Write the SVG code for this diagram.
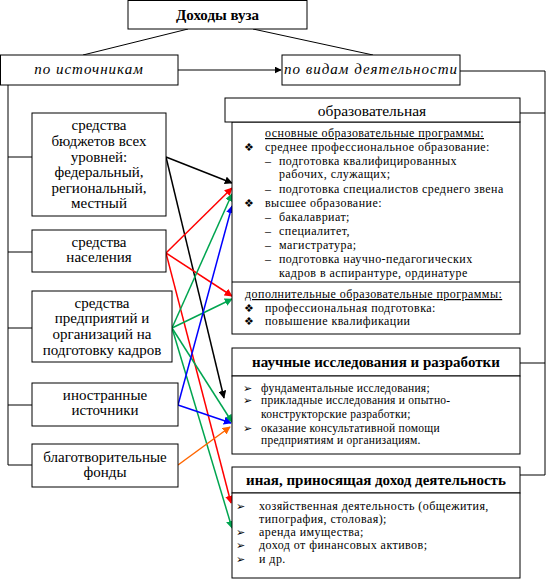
<svg xmlns="http://www.w3.org/2000/svg" width="547" height="580" viewBox="0 0 547 580">
<style>
.box{fill:#fff;stroke:#000;stroke-width:1}
.ln{fill:none;stroke:#000;stroke-width:1}
.t16{font-family:"Liberation Serif","Times New Roman",serif;font-size:15px;fill:#000;text-anchor:middle}
.hd{font-family:"Liberation Serif","Times New Roman",serif;font-size:15.5px;fill:#000;text-anchor:middle}
.hb{font-family:"Liberation Serif","Times New Roman",serif;font-size:15px;font-weight:bold;fill:#000;text-anchor:middle}
.it{font-family:"Liberation Serif","Times New Roman",serif;font-size:15px;font-style:italic;letter-spacing:1px;fill:#000;text-anchor:middle}
.b12{font-family:"Liberation Serif","Times New Roman",serif;font-size:12px;letter-spacing:0.45px;fill:#000}
.b11{font-family:"Liberation Serif","Times New Roman",serif;font-size:11.5px;letter-spacing:0.25px;fill:#000}
.sym{font-family:"DejaVu Sans",sans-serif;font-size:11px;fill:#000}
.a{fill:none;stroke-width:1.5}
</style>
<defs>
<marker id="mk" viewBox="0 0 10 10" refX="9" refY="5" markerWidth="7" markerHeight="7" markerUnits="userSpaceOnUse" orient="auto"><path d="M0,0 L10,5 L0,10 z" fill="#000"/></marker>
<marker id="mr" viewBox="0 0 10 10" refX="9" refY="5" markerWidth="8" markerHeight="8" markerUnits="userSpaceOnUse" orient="auto"><path d="M0,0 L10,5 L0,10 z" fill="#ff0000"/></marker>
<marker id="mg" viewBox="0 0 10 10" refX="9" refY="5" markerWidth="8" markerHeight="8" markerUnits="userSpaceOnUse" orient="auto"><path d="M0,0 L10,5 L0,10 z" fill="#00a550"/></marker>
<marker id="mb" viewBox="0 0 10 10" refX="9" refY="5" markerWidth="8" markerHeight="8" markerUnits="userSpaceOnUse" orient="auto"><path d="M0,0 L10,5 L0,10 z" fill="#0000ff"/></marker>
<marker id="mo" viewBox="0 0 10 10" refX="9" refY="5" markerWidth="8" markerHeight="8" markerUnits="userSpaceOnUse" orient="auto"><path d="M0,0 L10,5 L0,10 z" fill="#ff6600"/></marker>
<marker id="mbk" viewBox="0 0 10 10" refX="9" refY="5" markerWidth="8" markerHeight="8" markerUnits="userSpaceOnUse" orient="auto"><path d="M0,0 L10,5 L0,10 z" fill="#000"/></marker>
</defs>
<rect width="547" height="580" fill="#fff"/>

<g id="connectors">
<line class="ln" x1="188" y1="29" x2="83" y2="55"/>
<line class="ln" x1="253" y1="29" x2="373" y2="55"/>
<line class="ln" x1="178" y1="70" x2="281" y2="70" marker-end="url(#mk)"/>
<polyline class="ln" points="460,71 545,71 545,475 520,475"/>
<line class="ln" x1="520" y1="113" x2="545" y2="113"/>
<line class="ln" x1="520" y1="363" x2="545" y2="363"/>
<polyline class="ln" points="8,85 8,465 32,465"/>
<line class="ln" x1="8" y1="157" x2="32" y2="157"/>
<line class="ln" x1="8" y1="252" x2="32" y2="252"/>
<line class="ln" x1="8" y1="328" x2="32" y2="328"/>
<line class="ln" x1="8" y1="405" x2="32" y2="405"/>
<line class="a" stroke="#000" x1="166" y1="157" x2="232" y2="183" marker-end="url(#mbk)"/>
<line class="a" stroke="#000" x1="166" y1="157" x2="224" y2="398" marker-end="url(#mbk)"/>
<line class="a" stroke="#ff0000" x1="166" y1="253" x2="232" y2="188" marker-end="url(#mr)"/>
<line class="a" stroke="#ff0000" x1="166" y1="253" x2="232" y2="296" marker-end="url(#mr)"/>
<line class="a" stroke="#ff0000" x1="166" y1="253" x2="231" y2="503" marker-end="url(#mr)"/>
<line class="a" stroke="#00a550" x1="172" y1="328" x2="232" y2="194" marker-end="url(#mg)"/>
<line class="a" stroke="#00a550" x1="172" y1="328" x2="232" y2="299" marker-end="url(#mg)"/>
<line class="a" stroke="#00a550" x1="172" y1="328" x2="232" y2="422" marker-end="url(#mg)"/>
<line class="a" stroke="#00a550" x1="172" y1="328" x2="232" y2="528" marker-end="url(#mg)"/>
<line class="a" stroke="#0000ff" x1="178" y1="405" x2="232" y2="206" marker-end="url(#mb)"/>
<line class="a" stroke="#0000ff" x1="178" y1="405" x2="231" y2="423" marker-end="url(#mb)"/>
<line class="a" stroke="#ff6600" x1="178" y1="465" x2="230" y2="427" marker-end="url(#mo)"/>
</g>

<g id="root">
<rect class="box" x="128" y="0.5" width="179" height="28.5"/>
<text x="217.5" y="20" class="t16" font-size="16" font-weight="bold">Доходы вуза</text>
</g>
<g id="by-source">
<rect class="box" x="0.5" y="55" width="177.5" height="30"/>
<text x="89" y="74" class="it">по источникам</text>
</g>
<g id="by-activity">
<rect class="box" x="282" y="55" width="178" height="30"/>
<text x="371" y="74" class="it">по видам деятельности</text>
</g>

<g id="src-budget">
<rect class="box" x="32" y="113" width="134" height="103"/>
<text class="t16"><tspan x="99" y="130">средства</tspan><tspan x="99" y="146">бюджетов всех</tspan><tspan x="99" y="162">уровней:</tspan><tspan x="99" y="177">федеральный,</tspan><tspan x="99" y="193">региональный,</tspan><tspan x="99" y="208">местный</tspan></text>
</g>
<g id="src-population">
<rect class="box" x="32" y="230" width="134" height="42"/>
<text class="t16"><tspan x="99" y="247">средства</tspan><tspan x="99" y="262">населения</tspan></text>
</g>
<g id="src-enterprises">
<rect class="box" x="32" y="291" width="140" height="71"/>
<text class="t16"><tspan x="102" y="308">средства</tspan><tspan x="102" y="323">предприятий и</tspan><tspan x="102" y="339">организаций на</tspan><tspan x="102" y="355">подготовку кадров</tspan></text>
</g>
<g id="src-foreign">
<rect class="box" x="32" y="383" width="146" height="43"/>
<text class="t16"><tspan x="105" y="400">иностранные</tspan><tspan x="105" y="415">источники</tspan></text>
</g>
<g id="src-charity">
<rect class="box" x="32" y="444" width="146" height="43"/>
<text class="t16"><tspan x="105" y="462">благотворительные</tspan><tspan x="105" y="477">фонды</tspan></text>
</g>

<g id="act-education">
<rect class="box" x="232" y="122" width="288" height="212"/>
<line class="ln" x1="232" y1="282" x2="520" y2="282"/>
<rect class="box" x="225" y="98" width="295" height="24"/>
<text x="372" y="116" class="hd">образовательная</text>
<text class="b12" x="265" y="137" text-decoration="underline">основные образовательные программы:</text>
<text class="sym" x="244" y="151">❖</text><text class="b12" x="265" y="151">среднее профессиональное образование:</text>
<text class="b12" x="265" y="165">–</text><text class="b12" x="279" y="165">подготовка квалифицированных</text>
<text class="b12" x="279" y="178">рабочих, служащих;</text>
<text class="b12" x="265" y="193">–</text><text class="b12" x="279" y="193">подготовка специалистов среднего звена</text>
<text class="sym" x="244" y="207">❖</text><text class="b12" x="265" y="207">высшее образование:</text>
<text class="b12" x="265" y="221">–</text><text class="b12" x="279" y="221">бакалавриат;</text>
<text class="b12" x="265" y="235">–</text><text class="b12" x="279" y="235">специалитет,</text>
<text class="b12" x="265" y="249">–</text><text class="b12" x="279" y="249">магистратура;</text>
<text class="b12" x="265" y="263">–</text><text class="b12" x="279" y="263">подготовка научно-педагогических</text>
<text class="b12" x="279" y="277">кадров в аспирантуре, ординатуре</text>
<text class="b12" x="245" y="298" text-decoration="underline">дополнительные образовательные программы:</text>
<text class="sym" x="244" y="312">❖</text><text class="b12" x="265" y="312">профессиональная подготовка:</text>
<text class="sym" x="244" y="325">❖</text><text class="b12" x="265" y="325">повышение квалификации</text>
</g>

<g id="act-research">
<rect class="box" x="232" y="348" width="288" height="28"/>
<rect class="box" x="232" y="376" width="288" height="78"/>
<text x="376" y="367" class="hb">научные исследования и разработки</text>
<text class="sym" x="243" y="392">➢</text><text class="b11" x="261" y="392">фундаментальные исследования;</text>
<text class="sym" x="243" y="404">➢</text><text class="b11" x="261" y="404">прикладные исследования и опытно-</text>
<text class="b11" x="261" y="418">конструкторские разработки;</text>
<text class="sym" x="243" y="432">➢</text><text class="b11" x="261" y="432">оказание консультативной помощи</text>
<text class="b11" x="261" y="444">предприятиям и организациям.</text>
</g>

<g id="act-other">
<rect class="box" x="232" y="467" width="288" height="26"/>
<rect class="box" x="232" y="493" width="288" height="85"/>
<text x="376" y="485" class="hb">иная, приносящая доход деятельность</text>
<text class="sym" x="236" y="510">➢</text><text class="b12" x="259" y="510">хозяйственная деятельность (общежития,</text>
<text class="b12" x="259" y="523">типография, столовая);</text>
<text class="sym" x="236" y="536">➢</text><text class="b12" x="259" y="536">аренда имущества;</text>
<text class="sym" x="236" y="549">➢</text><text class="b12" x="259" y="549">доход от финансовых активов;</text>
<text class="sym" x="236" y="563">➢</text><text class="b12" x="259" y="563">и др.</text>
</g>
</svg>
